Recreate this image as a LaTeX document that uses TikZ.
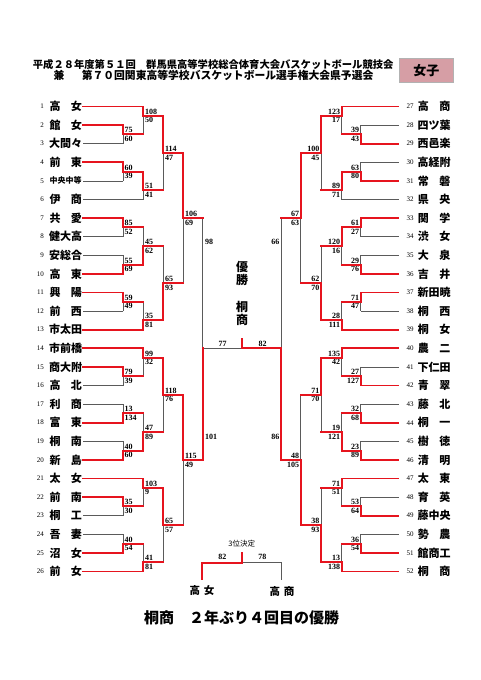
\documentclass[tikz,border=0pt]{standalone}
\usepackage{fontspec}
\setmainfont{Noto Sans CJK JP}
\newfontfamily\numf{Liberation Serif}
\usetikzlibrary{calc}
\definecolor{wred}{RGB}{230,20,30}
\definecolor{lgrey}{RGB}{90,90,90}
\definecolor{tagpink}{RGB}{214,158,165}
\pgfdeclarelayer{back}
\pgfsetlayers{back,main}
\tikzset{
  win/.style={draw=wred, line width=1.9pt, line cap=rect},
  lose/.style={draw=lgrey, line width=0.8pt},
  sc/.style={font=\numf\bfseries\fontsize{8}{8}\selectfont, inner sep=0pt},
  nm/.style={font=\bfseries\fontsize{11}{11}\selectfont, inner sep=0pt, anchor=west},
  en/.style={font=\numf\fontsize{7}{7}\selectfont, inner sep=0pt},
  ttl/.style={font=\bfseries\fontsize{10.3}{10.3}\selectfont, inner sep=0pt, anchor=west},
  ctr/.style={font=\bfseries\fontsize{12}{12}\selectfont, inner sep=0pt},
}
\newcommand\gL[9]{%
  \coordinate (#1) at (#2,#3);
  \if#6t
    \begin{pgfonlayer}{back}\draw[lose] (#5 -| #1) -- (#1);\end{pgfonlayer}
    \draw[#9] (#5) -- (#5 -| #1);
    \draw[win] (#4) -| (#1);
  \else
    \begin{pgfonlayer}{back}\draw[lose] (#4 -| #1) -- (#1);\end{pgfonlayer}
    \draw[#9] (#4) -- (#4 -| #1);
    \draw[win] (#5) -| (#1);
  \fi
  \node[sc,anchor=south west] at ([xshift=1.5pt,yshift=1.3pt]#1) {#7};
  \node[sc,anchor=north west] at ([xshift=1.5pt,yshift=-1.6pt]#1) {#8};
}
\newcommand\gR[9]{%
  \coordinate (#1) at (#2,#3);
  \if#6t
    \begin{pgfonlayer}{back}\draw[lose] (#5 -| #1) -- (#1);\end{pgfonlayer}
    \draw[#9] (#5) -- (#5 -| #1);
    \draw[win] (#4) -| (#1);
  \else
    \begin{pgfonlayer}{back}\draw[lose] (#4 -| #1) -- (#1);\end{pgfonlayer}
    \draw[#9] (#4) -- (#4 -| #1);
    \draw[win] (#5) -| (#1);
  \fi
  \node[sc,anchor=south east] at ([xshift=-1.5pt,yshift=1.3pt]#1) {#7};
  \node[sc,anchor=north east] at ([xshift=-1.5pt,yshift=-1.6pt]#1) {#8};
}
\begin{document}
\begin{tikzpicture}[x=1pt,y=-1pt]
\useasboundingbox (0,0) rectangle (481,680);

% header
\node[ttl] (h1) at (32.7,64.5) {平成２８年度第５１回　群馬県高等学校総合体育大会バスケットボール競技会};
\node[ttl,font=\bfseries\fontsize{10.8}{10.8}\selectfont] (h2) at (53.3,75.6) {兼\hspace{17.5pt}第７０回関東高等学校バスケットボール選手権大会県予選会};
\node[draw=gray!60, fill=tagpink, minimum width=54pt, minimum height=24pt, inner sep=0pt, font=\bfseries\fontsize{13}{13}\selectfont] (tag) at (426.3,70.3) {女子};

% left entries
\foreach \i/\t in {1/{高\hfill 女},2/{館\hfill 女},3/{大\hfill 間\hfill 々},4/{前\hfill 東},5/{\fontsize{8}{8}\selectfont 中央中等},6/{伊\hfill 商},7/{共\hfill 愛},8/{健\hfill 大\hfill 高},9/{安\hfill 総\hfill 合},10/{高\hfill 東},11/{興\hfill 陽},12/{前\hfill 西},13/{市\hfill 太\hfill 田},14/{市\hfill 前\hfill 橋},15/{商\hfill 大\hfill 附},16/{高\hfill 北},17/{利\hfill 商},18/{富\hfill 東},19/{桐\hfill 南},20/{新\hfill 島},21/{太\hfill 女},22/{前\hfill 南},23/{桐\hfill 工},24/{吾\hfill 妻},25/{沼\hfill 女},26/{前\hfill 女}}{
  \pgfmathsetmacro\yy{106.5+(\i-1)*18.6}
  \node[en,anchor=east] (n\i) at (44,\yy) {\i};
  \node[nm] (t\i) at (49.3,\yy) {\makebox[32.4pt]{\t}};
  \coordinate (e\i) at (83.3,\yy);
}
% right entries
\foreach \i/\t in {27/{高\hfill 商},28/{四\hfill ツ\hfill 葉},29/{西\hfill 邑\hfill 楽},30/{高\hfill 経\hfill 附},31/{常\hfill 磐},32/{県\hfill 央},33/{関\hfill 学},34/{渋\hfill 女},35/{大\hfill 泉},36/{吉\hfill 井},37/{新\hfill 田\hfill 暁},38/{桐\hfill 西},39/{桐\hfill 女},40/{農\hfill 二},41/{下\hfill 仁\hfill 田},42/{青\hfill 翠},43/{藤\hfill 北},44/{桐\hfill 一},45/{樹\hfill 徳},46/{清\hfill 明},47/{太\hfill 東},48/{育\hfill 英},49/{藤\hfill 中\hfill 央},50/{勢\hfill 農},51/{館\hfill 商\hfill 工},52/{桐\hfill 商}}{
  \pgfmathsetmacro\yy{106.5+(\i-27)*18.6}
  \node[en,anchor=west] (n\i) at (406.3,\yy) {\i};
  \node[nm] (t\i) at (417.7,\yy) {\makebox[32.4pt]{\t}};
  \coordinate (e\i) at (398.5,\yy);
}

% left bracket
\gL{a1}{123}{134.4}{e2}{e3}{t}{75}{60}{lose}
\gL{a2}{143.3}{115.8}{e1}{a1}{t}{108}{50}{win}
\gL{a3}{123}{171.6}{e4}{e5}{t}{60}{39}{lose}
\gL{a4}{143.3}{190.2}{a3}{e6}{t}{51}{41}{lose}
\gL{a5}{163.3}{153}{a2}{a4}{t}{114}{47}{win}
\gL{a6}{123}{227.4}{e7}{e8}{t}{85}{52}{lose}
\gL{a7}{123}{264.6}{e9}{e10}{b}{55}{69}{lose}
\gL{a8}{143.3}{246}{a6}{a7}{b}{45}{62}{win}
\gL{a9}{123}{301.8}{e11}{e12}{t}{59}{49}{lose}
\gL{a10}{143.3}{320.4}{a9}{e13}{b}{35}{81}{win}
\gL{a11}{163.3}{283.2}{a8}{a10}{b}{65}{93}{win}
\gL{a12}{183.3}{218.1}{a5}{a11}{t}{106}{69}{win}
\gL{b1}{123}{376.2}{e15}{e16}{t}{79}{39}{lose}
\gL{b2}{143.3}{357.6}{e14}{b1}{t}{99}{32}{win}
\gL{b3}{123}{413.4}{e17}{e18}{b}{13}{134}{lose}
\gL{b4}{123}{450.6}{e19}{e20}{b}{40}{60}{lose}
\gL{b5}{143.3}{432}{b3}{b4}{b}{47}{89}{win}
\gL{b6}{163.3}{394.8}{b2}{b5}{t}{118}{76}{win}
\gL{b7}{123}{506.4}{e22}{e23}{t}{35}{30}{lose}
\gL{b8}{143.3}{487.8}{e21}{b7}{t}{103}{9}{win}
\gL{b9}{123}{543.6}{e24}{e25}{b}{40}{54}{lose}
\gL{b10}{143.3}{562.2}{b9}{e26}{b}{41}{81}{win}
\gL{b11}{163.3}{525}{b8}{b10}{t}{65}{57}{win}
\gL{b12}{183.3}{459.9}{b6}{b11}{t}{115}{49}{win}

% right bracket
\gR{c1}{360.7}{134.4}{e28}{e29}{b}{39}{43}{lose}
\gR{c2}{341.7}{115.8}{e27}{c1}{t}{123}{17}{win}
\gR{c3}{360.7}{171.6}{e30}{e31}{b}{63}{80}{lose}
\gR{c4}{341.7}{190.2}{c3}{e32}{t}{89}{71}{lose}
\gR{c5}{321}{153}{c2}{c4}{t}{100}{45}{win}
\gR{c6}{360.7}{227.4}{e33}{e34}{t}{61}{27}{lose}
\gR{c7}{360.7}{264.6}{e35}{e36}{b}{29}{76}{lose}
\gR{c8}{341.7}{246}{c6}{c7}{t}{120}{16}{win}
\gR{c9}{360.7}{301.8}{e37}{e38}{t}{71}{47}{lose}
\gR{c10}{341.7}{320.4}{c9}{e39}{b}{28}{111}{win}
\gR{c11}{321}{283.2}{c8}{c10}{b}{62}{70}{win}
\gR{c12}{300.7}{218.1}{c5}{c11}{t}{67}{63}{win}
\gR{d1}{360.7}{376.2}{e41}{e42}{b}{27}{127}{lose}
\gR{d2}{341.7}{357.6}{e40}{d1}{t}{135}{42}{win}
\gR{d3}{360.7}{413.4}{e43}{e44}{b}{32}{68}{lose}
\gR{d4}{360.7}{450.6}{e45}{e46}{b}{23}{89}{lose}
\gR{d5}{341.7}{432}{d3}{d4}{b}{19}{121}{win}
\gR{d6}{321}{394.8}{d2}{d5}{t}{71}{70}{win}
\gR{d7}{360.7}{506.4}{e48}{e49}{b}{53}{64}{lose}
\gR{d8}{341.7}{487.8}{e47}{d7}{t}{71}{51}{win}
\gR{d9}{360.7}{543.6}{e50}{e51}{b}{36}{54}{lose}
\gR{d10}{341.7}{562.2}{d9}{e52}{b}{13}{138}{win}
\gR{d11}{321}{525}{d8}{d10}{b}{38}{93}{win}
\gR{d12}{300.7}{459.9}{d6}{d11}{b}{48}{105}{win}

% semifinals
\coordinate (SL) at (202.7,348.3);
\coordinate (SR) at (281,348.3);
\begin{pgfonlayer}{back}
\draw[lose] (a12 -| SL) -- (SL);
\draw[lose] (c12 -| SR) -- (SR);
\end{pgfonlayer}
\draw[win] (a12) -- (a12 -| SL);
\draw[win] (c12) -- (c12 -| SR);
\draw[win] (b12) -| (SL);
\draw[win] (d12) -| (SR);
\node[sc,anchor=west] at (205,241.7) {98};
\node[sc,anchor=west] at (205,436.7) {101};
\node[sc,anchor=east] at (279.5,241.7) {66};
\node[sc,anchor=east] at (279.5,436.7) {86};

% final
\coordinate (F) at (242,348.3);
\coordinate (Ft) at (242,339);
\begin{pgfonlayer}{back}\draw[lose] (SL) -- (F);\end{pgfonlayer}
\draw[win] (SR) -- (F) -- (Ft);
\node[sc] at (222.5,343.5) {77};
\node[sc] at (262.5,343.5) {82};
\node[ctr] (c1t) at (242,266.7) {優};
\node[ctr] (c2t) at (242,279.5) {勝};
\node[ctr] (c3t) at (242,307.3) {桐};
\node[ctr] (c4t) at (242,319.8) {商};

% third place
\node[font=\fontsize{7.5}{7.5}\selectfont, inner sep=0pt] (tp) at (241.7,544) {3位決定};
\coordinate (TF) at (241.7,562.7);
\coordinate (TFt) at (241.7,553.3);
\coordinate (T1) at (201.7,579.5);
\coordinate (T2) at (281,579.5);
\begin{pgfonlayer}{back}\draw[lose] (T2) |- (TF);\end{pgfonlayer}
\draw[win] (T1) |- (TF) -- (TFt);
\node[sc] at (222.3,557.3) {82};
\node[sc] at (262.3,557.3) {78};
\node[font=\bfseries\fontsize{10.5}{10.5}\selectfont, inner sep=0pt] (q1) at (202,591) {高\hspace{4pt}女};
\node[font=\bfseries\fontsize{10.5}{10.5}\selectfont, inner sep=0pt] (q2) at (282,591) {高\hspace{4pt}商};

% footer
\node[font=\bfseries\fontsize{15}{15}\selectfont, inner sep=0pt] (ft) at (241.5,618) {桐商　２年ぶり４回目の優勝};
\end{tikzpicture}
\end{document}
